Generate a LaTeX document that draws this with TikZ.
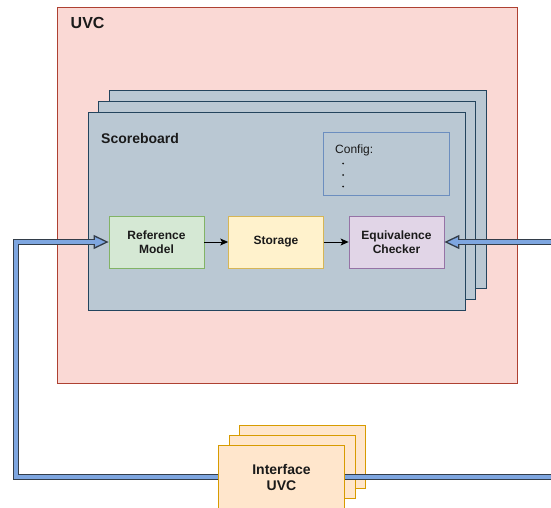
\documentclass[tikz,border=0pt]{standalone}
\usepackage{fontspec}
\setmainfont{Liberation Sans}
\usetikzlibrary{arrows.meta}

\definecolor{uvcfill}{HTML}{FAD9D5}
\definecolor{uvcline}{HTML}{AE4132}
\definecolor{sbfill}{HTML}{BAC8D3}
\definecolor{sbline}{HTML}{23445D}
\definecolor{reffill}{HTML}{D5E8D4}
\definecolor{refline}{HTML}{82B366}
\definecolor{stofill}{HTML}{FFF2CC}
\definecolor{stoline}{HTML}{D6B656}
\definecolor{eqfill}{HTML}{E1D5E7}
\definecolor{eqline}{HTML}{9673A6}
\definecolor{cfgline}{HTML}{6C8EBF}
\definecolor{iffill}{HTML}{FFE6CC}
\definecolor{ifline}{HTML}{D79B00}
\definecolor{busblue}{HTML}{7EA6E0}
\definecolor{busline}{HTML}{333D49}
\definecolor{txt}{HTML}{1A1A1A}

\tikzset{
  box/.style={draw, line width=0.8pt, rectangle, inner sep=0pt, text=txt, align=center},
  blk/.style={box, minimum width=95pt, minimum height=52pt,
              font=\fontsize{12}{14}\selectfont\bfseries},
  sbbox/.style={box, fill=sbfill, draw=sbline, minimum width=377pt, minimum height=198pt},
  ifbox/.style={box, fill=iffill, draw=ifline, minimum width=126pt, minimum height=64pt},
  label/.style={inner sep=0pt, text=txt, anchor=base west},
  bus outer/.style={draw=busline, line width=6pt, line join=miter},
  bus inner/.style={draw=busblue, line width=3.4pt, line join=miter},
  bus tip/.style={-{Triangle[length=15pt,width=14pt,fill=busblue,line width=1.3pt]}},
  flow/.style={draw=black, line width=0.8pt, -{Stealth[length=8pt,width=7pt,inset=2pt]}},
}

\begin{document}
\begin{tikzpicture}[x=1pt,y=-1pt]
  \useasboundingbox (0,0) rectangle (551,508);
  \clip (0,0) rectangle (551,508);

  % outer UVC frame
  \node[box, fill=uvcfill, draw=uvcline, minimum width=460pt, minimum height=376pt]
    (uvc) at (287,195) {};
  \node[label, font=\fontsize{16}{18}\selectfont\bfseries] (uvclabel) at (70.5,29) {UVC};

  % stacked scoreboards
  \node[sbbox] (sbback) at (297.5,189.5) {};
  \node[sbbox] (sbmid)  at (287,200.5) {};
  \node[sbbox] (sb)     at (276.5,211) {};
  \node[label, font=\fontsize{14}{16}\selectfont\bfseries] (sblabel) at (101,143) {Scoreboard};

  % configuration block
  \node[box, draw=cfgline, minimum width=126pt, minimum height=63pt] (cfg) at (386,163.5) {};
  \node[label, font=\fontsize{12}{14}\selectfont] (cfglabel) at (335,153.5) {Config:};
  \fill[txt] (343,163.5) circle (1pt) (343,175) circle (1pt) (343,186.5) circle (1pt);

  % scoreboard pipeline
  \node[blk, fill=reffill, draw=refline] (ref) at (156.5,242) {Reference\\Model};
  \node[blk, fill=stofill, draw=stoline] (sto) at (276,242) {Storage};
  \node[blk, fill=eqfill, draw=eqline] (eq) at (396.5,242) {Equivalence\\Checker};
  \draw[flow] (ref) -- (sto);
  \draw[flow] (sto) -- (eq);

  % stacked interface agents
  \node[ifbox, minimum height=63pt] (ifback) at (302.5,456.5) {};
  \node[ifbox, minimum height=63pt] (ifmid)  at (292,466.5) {};
  \node[ifbox, font=\fontsize{14}{16}\selectfont\bfseries] (iface) at (281.5,477) {Interface\\UVC};

  % bus connections
  \coordinate (turn) at (16,360);
  \coordinate (rin) at (560,242);
  \coordinate (rout) at (560,477);

  \draw[bus outer, bus tip] (iface.west) -| (turn) |- (ref.west);
  \draw[bus inner, shorten >=14pt] (iface.west) -| (turn) |- (ref.west);

  \draw[bus outer, bus tip] (rin) -- (eq.east);
  \draw[bus inner, shorten >=14pt] (rin) -- (eq.east);

  \draw[bus outer] (iface.east) -- (rout);
  \draw[bus inner] (iface.east) -- (rout);
\end{tikzpicture}
\end{document}
